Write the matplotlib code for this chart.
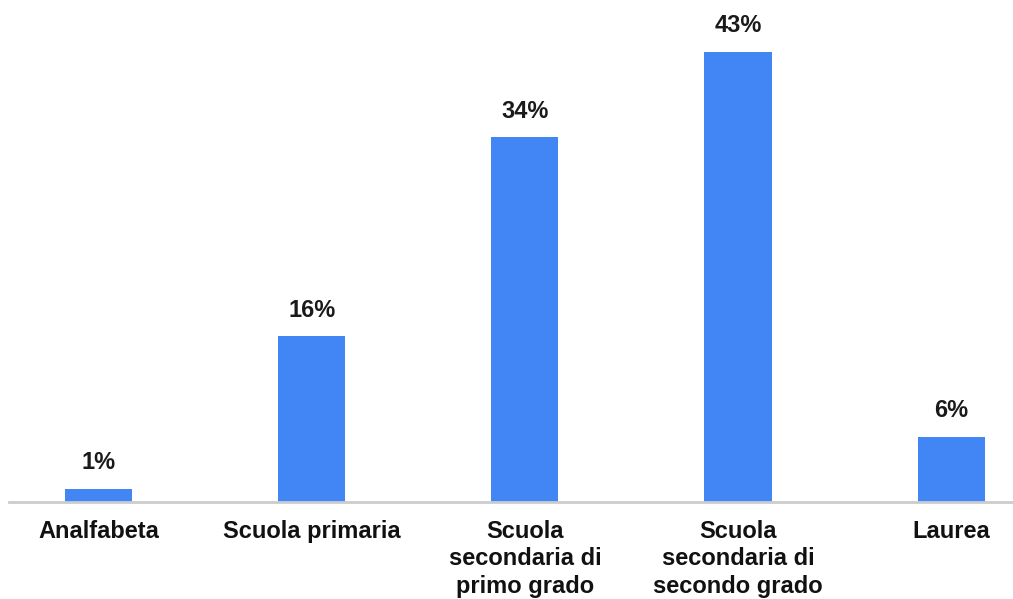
import matplotlib
matplotlib.use("Agg")
import matplotlib.pyplot as plt

categories = ["Analfabeta", "Scuola primaria", "Scuola\nsecondaria di\nprimo grado",
              "Scuola\nsecondaria di\nsecondo grado", "Laurea"]
values = [1.2, 15.8, 34.8, 43.0, 6.2]
labels = ["1%", "16%", "34%", "43%", "6%"]

W, H = 1013, 599
fig = plt.figure(figsize=(W / 100, H / 100), dpi=100)
left, right, bottom, top = 9, 1013, 501.5, 0
ax = fig.add_axes([left / W, (H - bottom) / H, (right - left) / W, (bottom - top) / H])

x = list(range(len(categories)))
bars = ax.bar(x, values, width=0.315, color="#4285F4", zorder=2)
ax.set_xlim(-0.42, 4.29)
ax.set_ylim(0, 501.5 / 10.46)

for b, lab in zip(bars, labels):
    ax.annotate(lab, (b.get_x() + b.get_width() / 2, b.get_height()),
                xytext=(0, 10.5), textcoords="offset points", ha="center", va="bottom",
                fontsize=17, fontweight="bold", family="Liberation Sans", color="#1a1a1a")

ax.set_xticks(x)
ax.set_xticklabels(categories, fontsize=17, fontweight="bold", family="Liberation Sans",
                   color="#111111", linespacing=1.25, va="top")
ax.tick_params(axis="x", length=0, pad=13)
ax.set_yticks([])
for s in ["top", "right", "left"]:
    ax.spines[s].set_visible(False)
ax.spines["bottom"].set_color("#cccccc")
ax.spines["bottom"].set_linewidth(2)

fig.savefig("out.png", dpi=100)
